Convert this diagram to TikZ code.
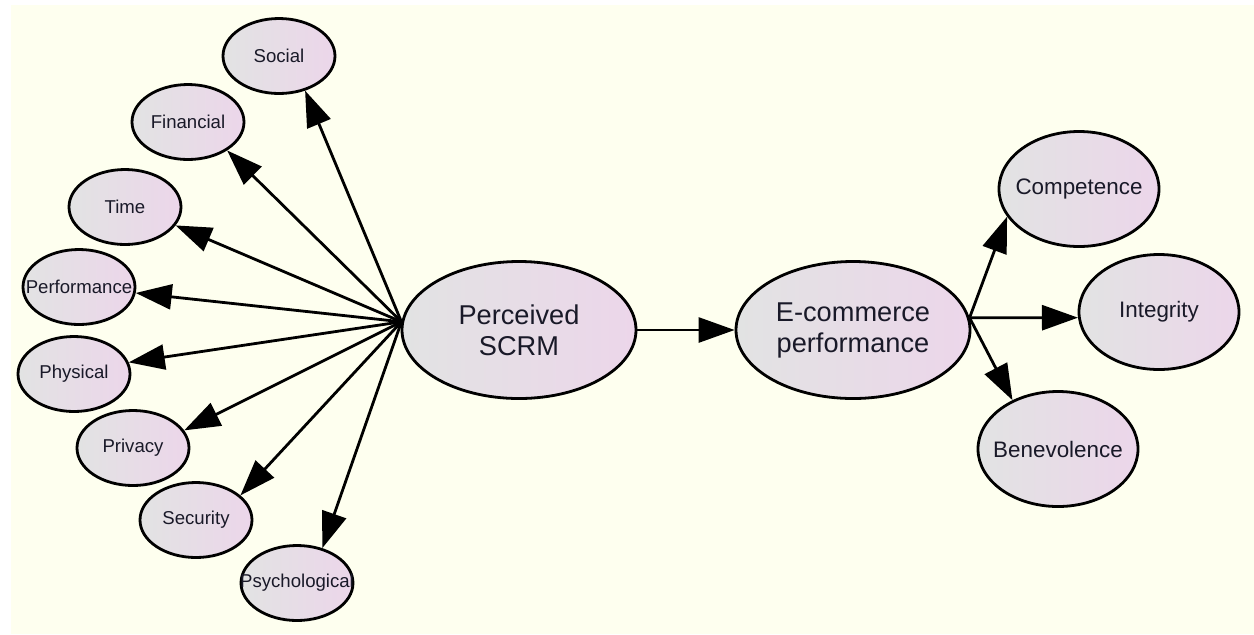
\documentclass[tikz,border=0pt]{standalone}
\usepackage{fontspec}
\setmainfont{Liberation Sans}
\usetikzlibrary{shapes.geometric,arrows.meta}
\definecolor{paper}{RGB}{254,255,239}
\definecolor{shadeleft}{RGB}{226,227,227}
\definecolor{shaderight}{RGB}{236,214,234}
\definecolor{ink}{RGB}{25,25,40}
\tikzset{
  factor/.style={ellipse, draw=black, line width=1.4pt, inner sep=0pt,
    left color=shadeleft, right color=shaderight, text=ink},
  risk/.style={factor, minimum width=56pt, minimum height=37.5pt,
    label={[font=\fontsize{9.3}{11}\selectfont, text=ink]center:#1}},
  trust/.style={factor, minimum width=80pt, minimum height=57.5pt,
    label={[font=\fontsize{11.2}{13}\selectfont, text=ink]center:#1}},
  latent/.style={factor, minimum width=117pt, minimum height=68.5pt,
    align=center, font=\fontsize{13.6}{15.5}\selectfont},
  path/.style={line width=1.4pt, -{Triangle[length=18pt, width=12.5pt]}}
}
\begin{document}
\begin{tikzpicture}[x=0.5pt, y=-0.5pt]
  % frame
  \useasboundingbox (0,0) rectangle (1254,634);
  \fill[paper] (11,5) rectangle (1254,634);
  % main constructs
  \node[latent] (scrm) at (519,330) {Perceived\\SCRM};
  \node[latent] (ecom) at (853,330) {E-commerce\\performance};
  % risk dimensions
  \node[risk=Social] (social) at (279,56) {};
  \node[risk=Financial] (financial) at (188,122) {};
  \node[risk=Time] (time) at (125,207) {};
  \node[risk=Performance] (perf) at (79,287) {};
  \node[risk=Physical] (physical) at (74,374) {};
  \node[risk=Privacy] (privacy) at (133,448) {};
  \node[risk=Security] (security) at (196,520) {};
  \node[risk=Psychological] (psych) at (297,583) {};
  % trust dimensions
  \node[trust=Competence] (comp) at (1079,189) {};
  \node[trust=Integrity] (integ) at (1159,312) {};
  \node[trust=Benevolence] (benev) at (1058,449) {};
  % paths
  \foreach \r/\a in {social/307,financial/324,time/340,perf/354,
                     physical/12,privacy/19,security/29,psych/54}
    \draw[path] (scrm.176) -- (\r.\a);
  \draw[path] (scrm) -- (ecom);
  \foreach \t/\a in {comp/201,integ/184,benev/133}
    \draw[path] (ecom.6) -- (\t.\a);
\end{tikzpicture}
\end{document}
